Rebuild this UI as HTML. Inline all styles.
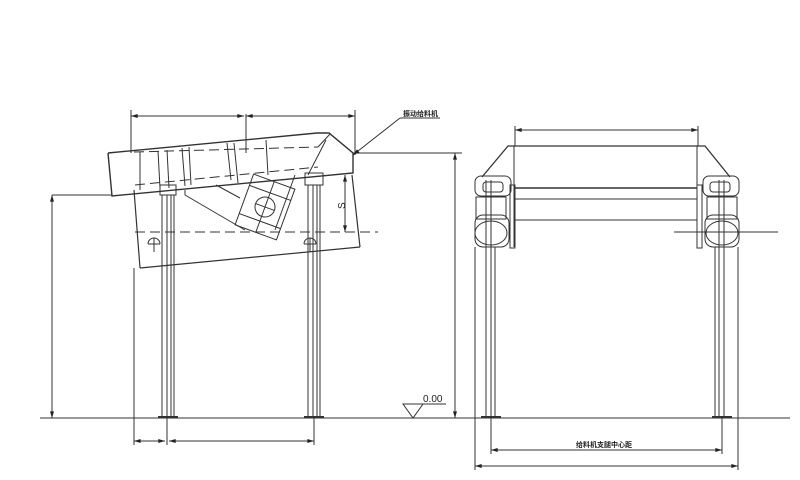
<!DOCTYPE html>
<html><head><meta charset="utf-8"><style>
html,body{margin:0;padding:0;background:#fff;}
svg{display:block;}
text{font-family:"Liberation Sans","Noto Sans CJK SC",sans-serif;}
</style></head><body>
<svg width="800" height="480" viewBox="0 0 800 480" xmlns="http://www.w3.org/2000/svg">
<defs>
<marker id="a" viewBox="0 0 10 6" refX="10" refY="3" markerWidth="8" markerHeight="4" orient="auto-start-reverse"><path d="M0,0L10,3L0,6z" fill="#222"/></marker>
</defs>
<g stroke="#333" stroke-width="1" fill="none">
<!-- LEFT VIEW -->
<!-- ground -->
<line x1="40" y1="418" x2="462" y2="418"/>
<!-- top dims -->
<line x1="131" y1="116" x2="244" y2="116" marker-start="url(#a)" marker-end="url(#a)"/>
<line x1="246" y1="116" x2="355" y2="116" marker-start="url(#a)" marker-end="url(#a)"/>
<line x1="131" y1="110" x2="131" y2="153"/>
<line x1="355" y1="110" x2="355" y2="155"/>
<line x1="246" y1="114" x2="246" y2="153"/>
<!-- body upper -->
<polyline points="108,153 317,133 329,133 353,153 353,173 112,196 108,153" stroke-width="1.4"/>
<line x1="134" y1="152" x2="318" y2="147" stroke-dasharray="10,5"/>
<line x1="135" y1="185" x2="318" y2="167" stroke-dasharray="10,5"/>
<line x1="318" y1="147" x2="330" y2="134"/>
<line x1="326" y1="140" x2="308" y2="175"/>
<line x1="140" y1="152" x2="140" y2="190"/>
<line x1="158" y1="151" x2="160" y2="188"/>
<line x1="167" y1="150" x2="169" y2="188"/>
<line x1="182" y1="148" x2="185" y2="186"/>
<line x1="189" y1="147" x2="191" y2="185"/>
<line x1="227" y1="143" x2="231" y2="180"/>
<line x1="234" y1="143" x2="238" y2="183"/>
<line x1="266" y1="140" x2="268" y2="175"/>
<!-- lower body -->
<line x1="134" y1="190" x2="140" y2="268" stroke-width="1.2"/>
<line x1="140" y1="268" x2="360" y2="247" stroke-width="1.2"/>
<line x1="352" y1="175" x2="360" y2="247" stroke-width="1.2"/>
<line x1="185" y1="190" x2="185" y2="195"/>
<line x1="185" y1="195" x2="245" y2="230"/>
<line x1="216" y1="185" x2="240" y2="198"/>
<line x1="295" y1="175" x2="275" y2="230"/>
<!-- motor -->
<g transform="rotate(20 265 207)">
<rect x="243" y="180" width="44" height="54"/>
<line x1="243" y1="192" x2="287" y2="192"/>
<line x1="243" y1="222" x2="287" y2="222"/>
<line x1="265" y1="180" x2="265" y2="234"/>
<circle cx="265" cy="207" r="10"/>
<line x1="255" y1="207" x2="275" y2="207"/>
</g>
<!-- dashed centerline -->
<line x1="135" y1="232" x2="378" y2="232" stroke-dasharray="10,5"/>
<!-- support symbols -->
<path d="M148,244 a6,6 0 0 1 12,0 M154,238 v14 M148,244 h12"/>
<path d="M304,244 a6,6 0 0 1 12,0 M310,238 v14 M304,244 h12"/>
<!-- legs -->
<rect x="160" y="185" width="16" height="10"/>
<line x1="162" y1="195" x2="162" y2="418"/><line x1="167" y1="195" x2="167" y2="418"/><line x1="171" y1="195" x2="171" y2="418"/><line x1="174" y1="195" x2="174" y2="418"/>
<rect x="305" y="173" width="18" height="12"/>
<line x1="308" y1="185" x2="308" y2="418"/><line x1="313" y1="185" x2="313" y2="418"/><line x1="317" y1="185" x2="317" y2="418"/><line x1="320" y1="185" x2="320" y2="418"/>
<line x1="158" y1="417" x2="178" y2="417" stroke-width="2"/>
<line x1="304" y1="417" x2="324" y2="417" stroke-width="2"/>
<!-- left height dim -->
<line x1="52" y1="195" x2="112" y2="195"/>
<line x1="52" y1="195" x2="52" y2="418" marker-start="url(#a)" marker-end="url(#a)"/>
<!-- right height dim -->
<line x1="353" y1="153" x2="462" y2="153"/>
<line x1="455" y1="153" x2="455" y2="418" marker-start="url(#a)" marker-end="url(#a)"/>
<!-- S dim -->
<line x1="345" y1="175" x2="345" y2="232" marker-start="url(#a)" marker-end="url(#a)"/>
<!-- bottom dims -->
<line x1="134" y1="268" x2="134" y2="445"/>
<line x1="167" y1="418" x2="167" y2="445"/>
<line x1="314" y1="418" x2="314" y2="445"/>
<line x1="134" y1="441" x2="165" y2="441" marker-start="url(#a)" marker-end="url(#a)"/>
<line x1="169" y1="441" x2="314" y2="441" marker-start="url(#a)" marker-end="url(#a)"/>
<!-- leader -->
<line x1="400" y1="118" x2="353" y2="155" marker-end="url(#a)"/>
<line x1="400" y1="118" x2="440" y2="118"/>
<!-- level mark -->
<path d="M403,404 L423,404 L413,418 Z"/>
<line x1="420" y1="404" x2="446" y2="404"/>

<!-- RIGHT VIEW -->
<line x1="460" y1="418" x2="790" y2="418"/>
<line x1="515" y1="130" x2="698" y2="130" marker-start="url(#a)" marker-end="url(#a)"/>
<line x1="515" y1="126" x2="515" y2="146"/><line x1="698" y1="126" x2="698" y2="146"/>
<polyline points="482,177 508,146 705,146 730,177" stroke-width="1.3"/>
<line x1="514" y1="146" x2="514" y2="247"/>
<line x1="697" y1="146" x2="697" y2="247"/>
<line x1="514" y1="188" x2="697" y2="188" stroke-width="1.4"/>
<line x1="514" y1="199" x2="697" y2="199"/>
<line x1="514" y1="220" x2="697" y2="220"/>
<rect x="510" y="185" width="5" height="63"/>
<rect x="697" y="185" width="5" height="63"/>
<!-- left motor -->
<rect x="475" y="176" width="36" height="20" rx="6"/>
<rect x="483" y="182" width="20" height="10" rx="3"/>
<rect x="476" y="197" width="30" height="22"/>
<ellipse cx="491" cy="233" rx="16" ry="12"/>
<rect x="475" y="215" width="34" height="32" rx="8"/>
<!-- right motor -->
<rect x="703" y="176" width="36" height="20" rx="6"/>
<rect x="710" y="182" width="20" height="10" rx="3"/>
<rect x="707" y="197" width="30" height="22"/>
<ellipse cx="722" cy="233" rx="16" ry="12"/>
<rect x="705" y="215" width="34" height="32" rx="8"/>
<line x1="674" y1="232" x2="778" y2="232"/>
<!-- legs -->
<line x1="475" y1="247" x2="475" y2="418"/><line x1="486" y1="180" x2="486" y2="418"/><line x1="491" y1="180" x2="491" y2="418"/><line x1="495" y1="247" x2="495" y2="418"/>
<line x1="715" y1="247" x2="715" y2="418"/><line x1="719" y1="180" x2="719" y2="418"/><line x1="724" y1="180" x2="724" y2="418"/><line x1="738" y1="247" x2="738" y2="418"/>
<line x1="481" y1="417" x2="501" y2="417" stroke-width="2"/>
<line x1="712" y1="417" x2="732" y2="417" stroke-width="2"/>
<!-- bottom dims -->
<line x1="491" y1="418" x2="491" y2="454"/><line x1="722" y1="418" x2="722" y2="454"/>
<line x1="475" y1="418" x2="475" y2="470"/><line x1="738" y1="418" x2="738" y2="470"/>
<line x1="491" y1="450" x2="722" y2="450" marker-start="url(#a)" marker-end="url(#a)"/>
<line x1="475" y1="466" x2="738" y2="466" marker-start="url(#a)" marker-end="url(#a)"/>
</g>
<g fill="#222">
<text x="403" y="116" font-size="7" font-weight="bold">振动给料机</text>
<text x="423" y="402" font-size="10">0.00</text>
<text x="338" y="210" font-size="10" transform="rotate(-90 341 206)">S</text>
<text x="576" y="447" font-size="7" font-weight="bold">给料机支腿中心距</text>
</g>
</svg>
</body></html>
